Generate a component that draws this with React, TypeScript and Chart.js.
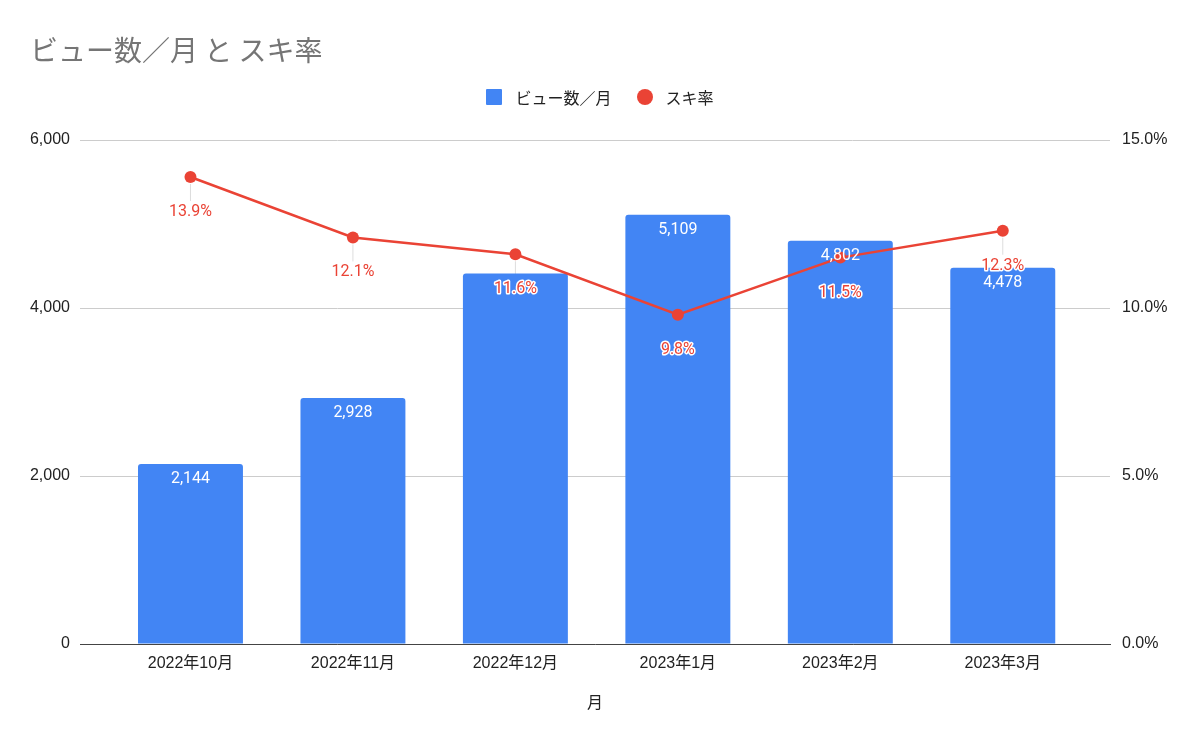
import { useEffect, useRef } from "react";
import { Chart, registerables } from "chart.js";

Chart.register(...registerables);

const months = ["2022年10月", "2022年11月", "2022年12月", "2023年1月", "2023年2月", "2023年3月"];
const views = [2144, 2928, 4412, 5109, 4802, 4478];
const likeRate = [13.9, 12.1, 11.6, 9.8, 11.5, 12.3];
const viewTicks = [0, 2000, 4000, 6000];
const rateTicks = [0, 5, 10, 15];

const BLUE = "#4285F4";
const RED = "#EA4335";
const TICK_FONT = '"Liberation Sans", "Noto Sans CJK JP", sans-serif';
const LABEL_FONT = 'Roboto, "Noto Sans", sans-serif';
const CJK_FONT = '"Noto Sans CJK JP", "Liberation Sans", sans-serif';

// data labels drawn the way Sheets does: white inside the bars, red with a halo under the points
const valueLabels = {
    id: "valueLabels",
    beforeDatasetsDraw(chart: any) {
        // leader lines sit behind the bars
        const { ctx } = chart;
        const lineMeta = chart.getDatasetMeta(0);
        ctx.save();
        ctx.strokeStyle = "#dddddd";
        ctx.lineWidth = 1;
        lineMeta.data.forEach((p: any) => {
            ctx.beginPath();
            ctx.moveTo(p.x, p.y + 7);
            ctx.lineTo(p.x, p.y + 24);
            ctx.stroke();
        });
        ctx.restore();
    },
    afterDatasetsDraw(chart: any) {
        const { ctx } = chart;
        const lineMeta = chart.getDatasetMeta(0);
        const barMeta = chart.getDatasetMeta(1);
        const lineLabelY = lineMeta.data.map((p: any) => p.y + 35);

        ctx.save();
        ctx.font = `16px ${LABEL_FONT}`;
        ctx.textAlign = "center";
        ctx.textBaseline = "middle";

        lineMeta.data.forEach((p: any, i: number) => {
            const text = likeRate[i].toFixed(1) + "%";
            ctx.strokeStyle = "#ffffff";
            ctx.lineWidth = 3;
            ctx.lineJoin = "round";
            ctx.strokeText(text, p.x, lineLabelY[i]);
            ctx.fillStyle = RED;
            ctx.fillText(text, p.x, lineLabelY[i]);
        });

        // bar labels, skipped where they would collide with a rate label
        barMeta.data.forEach((bar: any, i: number) => {
            const y = bar.y + 15;
            if (Math.abs(y - lineLabelY[i]) < 14) return;
            ctx.fillStyle = "#ffffff";
            ctx.fillText(views[i].toLocaleString("en-US"), bar.x, y);
        });
        ctx.restore();
    },
};

export default function App() {
    const chartRef = useRef<HTMLCanvasElement>(null);
    const chartInstanceRef = useRef<Chart | null>(null);

    useEffect(() => {
        document.body.style.margin = "0";
        const ctx = chartRef.current?.getContext("2d");
        if (!ctx) return;

        chartInstanceRef.current = new Chart(ctx, {
            data: {
                datasets: [
                    {
                        type: "line",
                        label: "スキ率",
                        data: months.map((_, i) => ({ x: i, y: likeRate[i] })),
                        yAxisID: "y1",
                        borderColor: RED,
                        borderWidth: 2.5,
                        pointRadius: 6,
                        pointBackgroundColor: RED,
                        pointBorderWidth: 0,
                        order: 0,
                    },
                    {
                        type: "bar",
                        label: "ビュー数／月",
                        data: months.map((_, i) => ({ x: i, y: views[i] })),
                        yAxisID: "y",
                        backgroundColor: BLUE,
                        borderRadius: { topLeft: 3, topRight: 3 },
                        borderSkipped: "bottom",
                        barPercentage: 0.646,
                        categoryPercentage: 1,
                        order: 1,
                    },
                ],
            },
            options: {
                animation: false,
                responsive: true,
                maintainAspectRatio: false,
                layout: { padding: { top: 140, left: 0, right: 0, bottom: 0 } },
                font: { family: TICK_FONT },
                scales: {
                    x: {
                        type: "linear",
                        offset: false,
                        min: -0.68,
                        max: 5.66,
                        afterBuildTicks: (scale: any) => {
                            scale.ticks = months.map((_, i) => ({ value: i }));
                        },
                        afterFit: (scale: any) => {
                            scale.height = 101;
                        },
                        grid: { display: false, drawTicks: false },
                        border: { display: true, color: "#444444", width: 1 },
                        ticks: {
                            padding: 10,
                            color: "#222222",
                            font: { size: 16, family: TICK_FONT },
                            maxRotation: 0,
                            autoSkip: false,
                            callback: (v: any) => months[v] ?? "",
                        },
                        title: {
                            display: true,
                            text: "月",
                            color: "#222222",
                            font: { size: 16, family: CJK_FONT },
                            padding: { top: 0, bottom: 33 },
                        },
                    },
                    y: {
                        position: "left",
                        min: 0,
                        max: 6000,
                        afterBuildTicks: (scale: any) => {
                            scale.ticks = viewTicks.map((v) => ({ value: v }));
                        },
                        afterFit: (scale: any) => {
                            scale.width = 80;
                        },
                        grid: { color: "#cccccc", drawTicks: false },
                        border: { display: false },
                        ticks: {
                            padding: 10,
                            color: "#222222",
                            font: { size: 16, family: TICK_FONT },
                            callback: (v: any) => Number(v).toLocaleString("en-US"),
                        },
                    },
                    y1: {
                        position: "right",
                        min: 0,
                        max: 15,
                        afterBuildTicks: (scale: any) => {
                            scale.ticks = rateTicks.map((v) => ({ value: v }));
                        },
                        afterFit: (scale: any) => {
                            scale.width = 90;
                        },
                        grid: { display: false, drawTicks: false },
                        border: { display: false },
                        ticks: {
                            padding: 12,
                            color: "#222222",
                            font: { size: 16, family: TICK_FONT },
                            callback: (v: any) => Number(v).toFixed(1) + "%",
                        },
                    },
                },
                plugins: {
                    legend: { display: false },
                    title: { display: false },
                    tooltip: { enabled: false },
                },
            },
            plugins: [valueLabels],
        } as any);

        return () => {
            if (chartInstanceRef.current) {
                chartInstanceRef.current.destroy();
                chartInstanceRef.current = null;
            }
        };
    }, []);

    return (
        <div style={{ position: "relative", width: 1200, height: 745, background: "#fff" }}>
            <div
                style={{
                    position: "absolute",
                    left: 30,
                    top: 35,
                    fontSize: 28,
                    lineHeight: "28px",
                    color: "#757575",
                    fontFamily: CJK_FONT,
                    whiteSpace: "pre",
                }}
            >
                ビュー数／月 と スキ率
            </div>
            <div
                style={{
                    position: "absolute",
                    top: 89,
                    left: 0,
                    width: 1200,
                    height: 16,
                    display: "flex",
                    justifyContent: "center",
                    alignItems: "center",
                    fontFamily: CJK_FONT,
                    fontSize: 16,
                    color: "#222222",
                }}
            >
                <span style={{ width: 16, height: 16, background: BLUE, borderRadius: 1, display: "inline-block" }} />
                <span style={{ marginLeft: 13, lineHeight: "16px" }}>ビュー数／月</span>
                <span style={{ width: 16, height: 16, background: RED, borderRadius: "50%", marginLeft: 25, display: "inline-block" }} />
                <span style={{ marginLeft: 13, lineHeight: "16px" }}>スキ率</span>
            </div>
            <canvas ref={chartRef} />
        </div>
    );
}
